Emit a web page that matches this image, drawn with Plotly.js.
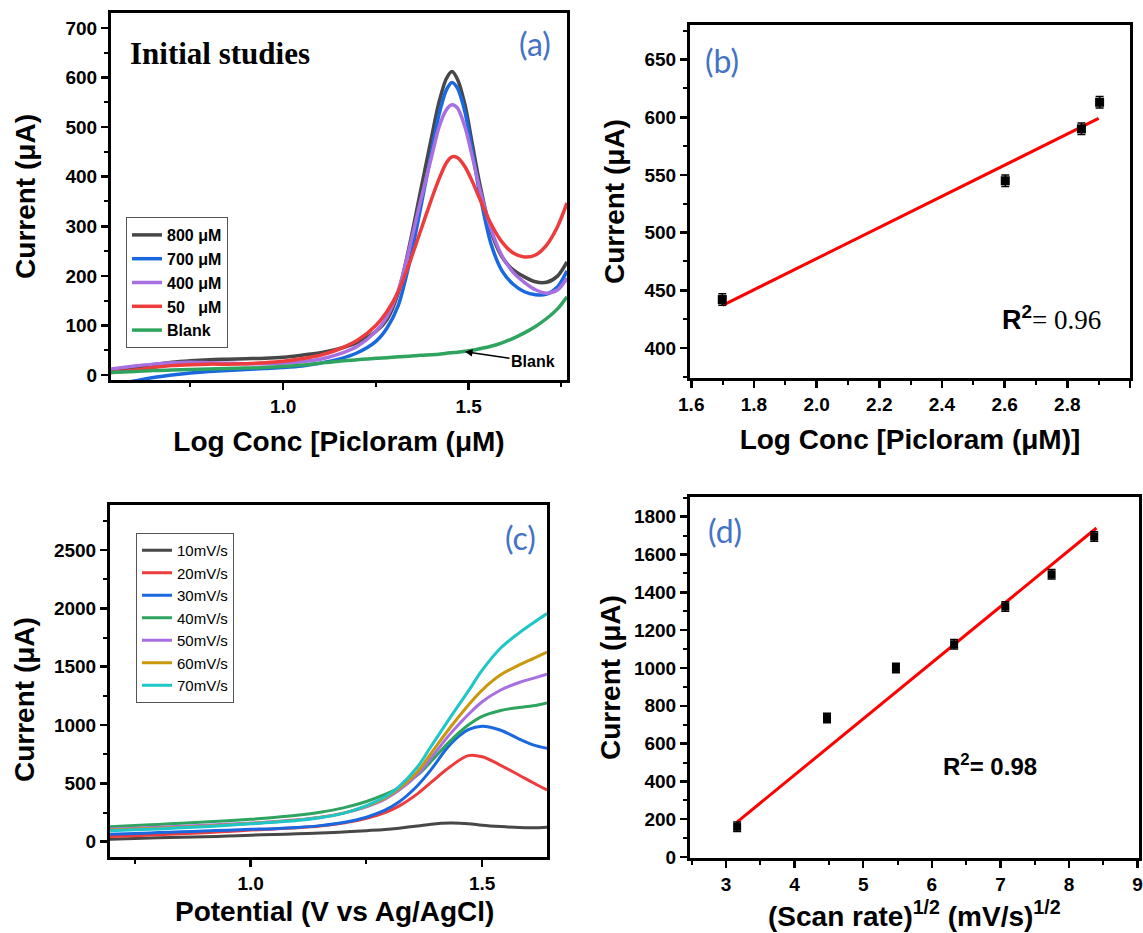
<!DOCTYPE html>
<html>
<head>
<meta charset="utf-8">
<script src="https://cdn.plot.ly/plotly-3.0.1.min.js"></script>
<style>html,body{margin:0;padding:0;background:#fff;}#chart{width:1143px;height:933px;}</style>
</head>
<body>
<div id="chart"></div>
<script>
// ---------- Panel (a): DPV curves, initial studies ----------
const xA = [0.535,0.6,0.65,0.7,0.75,0.8,0.85,0.9,0.95,1.0,1.05,1.1,1.15,1.2,1.25,1.28,1.31,1.34,1.37,1.4,1.42,1.44,1.455,1.47,1.49,1.51,1.53,1.56,1.59,1.62,1.65,1.68,1.71,1.74,1.765];
const a800  = [8,15,21,26,29,31,32,33,34,36,40,45,53,66,88,112,165,260,370,480,550,598,612,596,545,465,385,290,238,212,198,188,187,200,228];
const a700  = [-20,-12,-5,0,4,7,9,11,13,15,18,24,32,45,68,95,140,225,335,450,525,575,590,578,530,450,365,265,210,183,168,162,163,178,210];
const a400  = [12,18,22,25,26,25,24,23,23,24,27,32,42,58,88,118,170,255,350,440,500,535,545,538,500,440,375,295,240,207,187,172,165,172,195];
const a50   = [5,10,15,19,21,22,22,23,25,28,33,40,52,70,100,128,168,225,290,355,395,428,440,438,420,390,355,305,268,246,238,242,262,300,347];
const aBlank= [5,7,9,10,11,12,13,14,15,17,20,24,28,31,34,35,37,38,40,41,42,44,45,46,48,50,53,58,65,74,85,98,114,134,158];
const namesA = ['800 μM','700 μM','400 μM','50\u00a0\u00a0\u00a0μM','Blank'];

// ---------- Panel (b): peak current vs log conc ----------
const xB = [1.699,2.602,2.845,2.903];
const yB = [442,545,590,613];
const errB = [5,5,5,5];
const fitBx = [1.7,2.9];
const fitBy = [437,599];

// ---------- Panel (c): scan-rate study ----------
const xC = [0.696,0.75,0.8,0.85,0.9,0.95,1.0,1.05,1.1,1.15,1.2,1.25,1.29,1.32,1.36,1.39,1.43,1.47,1.5,1.54,1.58,1.61,1.64];
const c10 = [22,28,33,38,43,48,56,62,68,75,84,95,105,116,134,150,160,155,142,130,121,119,124];
const c20 = [45,52,60,68,77,88,100,110,120,135,160,200,250,305,410,510,640,738,728,655,570,505,443];
const c30 = [65,71,78,85,92,99,106,112,122,138,165,210,270,340,480,620,830,960,990,955,880,830,800];
const c40 = [128,138,148,158,168,180,192,207,226,252,290,345,405,462,570,690,860,1000,1075,1125,1150,1165,1190];
const c50 = [108,116,124,133,142,151,160,173,188,210,245,300,365,440,575,720,920,1090,1200,1300,1365,1400,1435];
const c60 = [100,108,116,124,133,144,156,169,185,208,245,305,375,455,600,760,975,1170,1300,1430,1515,1570,1625];
const c70 = [94,102,110,119,129,141,154,166,182,205,243,310,385,470,640,820,1060,1290,1470,1660,1790,1875,1955];
const namesC = ['10mV/s','20mV/s','30mV/s','40mV/s','50mV/s','60mV/s','70mV/s'];

// ---------- Panel (d): peak current vs sqrt(scan rate) ----------
const xD = [3.162,4.472,5.477,6.325,7.071,7.746,8.367];
const yD = [160,735,1000,1125,1325,1495,1695];
const errD = [25,25,25,25,25,25,25];
const fitDx = [3.16,8.40];
const fitDy = [185,1740];

const colA = ['#474747','#1a68e0','#a86fe2','#ee3b3b','#2ea45f'];
const colC = ['#474747','#ee3b3b','#1a68e0','#2ea45f','#a86fe2','#c9980f','#1fc6c9'];

const traces = [];
[a800,a700,a400,a50,aBlank].forEach((ys,i)=>{
  traces.push({x:xA,y:ys,name:namesA[i],type:'scatter',mode:'lines',xaxis:'x',yaxis:'y',
    line:{color:colA[i],width:3.5,shape:'spline',smoothing:0.8},legend:'legend'});
});
traces.push({x:fitBx,y:fitBy,type:'scatter',mode:'lines',xaxis:'x2',yaxis:'y2',showlegend:false,
  line:{color:'#ff0000',width:3}});
traces.push({x:xB,y:yB,type:'scatter',mode:'markers',xaxis:'x2',yaxis:'y2',showlegend:false,
  marker:{symbol:'square',size:9,color:'#000'},
  error_y:{type:'data',array:errB,visible:true,color:'#000',thickness:1.5,width:4}});
[c10,c20,c30,c40,c50,c60,c70].forEach((ys,i)=>{
  traces.push({x:xC,y:ys,name:namesC[i],type:'scatter',mode:'lines',xaxis:'x3',yaxis:'y3',
    line:{color:colC[i],width:3,shape:'spline',smoothing:1},legend:'legend2'});
});
traces.push({x:fitDx,y:fitDy,type:'scatter',mode:'lines',xaxis:'x4',yaxis:'y4',showlegend:false,
  line:{color:'#ff0000',width:3}});
traces.push({x:xD,y:yD,type:'scatter',mode:'markers',xaxis:'x4',yaxis:'y4',showlegend:false,
  marker:{symbol:'square',size:8,color:'#000'},
  error_y:{type:'data',array:errD,visible:true,color:'#000',thickness:1.5,width:4}});

const FAM = 'Liberation Sans, Arial, sans-serif';
const tickFont = {family:FAM,size:19,color:'#000',weight:'bold'};
const titleFont = {family:FAM,size:28,color:'#000',weight:'bold'};
function ax(o){
  return Object.assign({
    showline:true,linecolor:'#000',linewidth:3,mirror:true,showgrid:false,zeroline:false,
    ticks:'outside',ticklen:7,tickwidth:2.5,tickcolor:'#000',tickfont:tickFont,
    automargin:false,fixedrange:true
  },o);
}
const W=1143,H=933;
const px=v=>v/W, py=v=>1-v/H;
function titleNote(text,x,y,angle){
  return {xref:'paper',yref:'paper',x:px(x),y:py(y),xanchor:'center',yanchor:'middle',showarrow:false,
    textangle:angle||0,text:text,font:titleFont};
}

const layout = {
  width:W,height:H,margin:{l:0,r:0,t:0,b:0},paper_bgcolor:'#fff',plot_bgcolor:'#fff',
  xaxis: ax({domain:[px(111),px(567)],range:[0.536,1.765],anchor:'y',dtick:0.5,tick0:0,tickformat:'.1f',
    minor:{ticks:'outside',ticklen:4,tickwidth:2,tickcolor:'#000',dtick:0.25},
    title:{text:'<b>Log Conc [Picloram (μM)</b>',font:titleFont,standoff:16}}),
  yaxis: ax({domain:[py(380),py(13)],range:[-10,730],anchor:'x',dtick:100,
    minor:{ticks:'outside',ticklen:4,tickwidth:2,tickcolor:'#000',dtick:50},
    title:{text:'<b>Current (μA)</b>',font:titleFont,standoff:22}}),
  xaxis2: ax({domain:[px(690),px(1130)],range:[1.596,3.0],anchor:'y2',dtick:0.2,tick0:0,tickformat:'.1f',
    minor:{ticks:'outside',ticklen:4,tickwidth:2,tickcolor:'#000',dtick:0.1},
    title:{text:'<b>Log Conc [Picloram (μM)]</b>',font:titleFont,standoff:16}}),
  yaxis2: ax({domain:[py(378),py(25)],range:[374,680],anchor:'x2',dtick:50,
    minor:{ticks:'outside',ticklen:4,tickwidth:2,tickcolor:'#000',dtick:25},
    title:{text:'<b>Current (μA)</b>',font:titleFont,standoff:12}}),
  xaxis3: ax({domain:[px(110),px(547)],range:[0.696,1.64],anchor:'y3',dtick:0.5,tick0:0,tickformat:'.1f',
    minor:{ticks:'outside',ticklen:4,tickwidth:2,tickcolor:'#000',dtick:0.25}}),
  yaxis3: ax({domain:[py(857),py(505)],range:[-131,2886],anchor:'x3',dtick:500,
    minor:{ticks:'outside',ticklen:4,tickwidth:2,tickcolor:'#000',dtick:250}}),
  xaxis4: ax({domain:[px(690),px(1139)],range:[2.475,9.02],anchor:'y4',dtick:1,
    minor:{ticks:'outside',ticklen:4,tickwidth:2,tickcolor:'#000',dtick:0.5}}),
  yaxis4: ax({domain:[py(858),py(497)],range:[-5,1904],anchor:'x4',dtick:200,
    minor:{ticks:'outside',ticklen:4,tickwidth:2,tickcolor:'#000',dtick:100}}),
  legend:{x:px(126),y:py(217),xanchor:'left',yanchor:'top',bgcolor:'#fff',bordercolor:'#555',borderwidth:1,
    font:{family:FAM,size:16,color:'#000',weight:'bold'},tracegroupgap:0},
  legend2:{x:px(136),y:py(533),xanchor:'left',yanchor:'top',bgcolor:'#fff',bordercolor:'#555',borderwidth:1,
    font:{family:FAM,size:15,color:'#000'},tracegroupgap:0},
  annotations:[
    titleNote('<b>Potential (V vs Ag/AgCl)</b>',334,911),
    titleNote('<b>Current (μA)</b>',24,700,-90),
    titleNote('<b>(Scan rate)<sup>1/2</sup> (mV/s)<sup>1/2</sup></b>',915,914),
    titleNote('<b>Current (μA)</b>',610,678,-90),
    {xref:'paper',yref:'paper',x:px(128),y:py(53),xanchor:'left',yanchor:'middle',showarrow:false,
     text:'<b>Initial studies</b>',font:{family:'Liberation Serif, Times New Roman, serif',size:31,color:'#000'}},
    {xref:'paper',yref:'paper',x:px(535),y:py(43),xanchor:'center',yanchor:'middle',showarrow:false,
     text:'(a)',font:{family:'Lato, Open Sans, sans-serif',size:32,color:'#4472c4'}},
    {xref:'paper',yref:'paper',x:px(722),y:py(60),xanchor:'center',yanchor:'middle',showarrow:false,
     text:'(b)',font:{family:'Lato, Open Sans, sans-serif',size:32,color:'#4472c4'}},
    {xref:'paper',yref:'paper',x:px(520),y:py(537),xanchor:'center',yanchor:'middle',showarrow:false,
     text:'(c)',font:{family:'Lato, Open Sans, sans-serif',size:32,color:'#4472c4'}},
    {xref:'paper',yref:'paper',x:px(725),y:py(530),xanchor:'center',yanchor:'middle',showarrow:false,
     text:'(d)',font:{family:'Lato, Open Sans, sans-serif',size:32,color:'#4472c4'}},
    {xref:'x',yref:'y',x:1.49,y:47,ax:68,ay:10,showarrow:true,arrowhead:2,arrowsize:1,arrowwidth:1.5,arrowcolor:'#000',
     text:'<b>Blank</b>',font:{family:FAM,size:16,color:'#000'}},
    {xref:'paper',yref:'paper',x:px(1051),y:py(318),xanchor:'center',yanchor:'middle',showarrow:false,
     text:'<b>R<sup>2</sup></b><span style="font-family:Liberation Serif, Times New Roman, serif">= 0.96</span>',
     font:{family:FAM,size:27,color:'#000'}},
    {xref:'paper',yref:'paper',x:px(990),y:py(765),xanchor:'center',yanchor:'middle',showarrow:false,
     text:'<b>R<sup>2</sup>= 0.98</b>',
     font:{family:FAM,size:24,color:'#000'}}
  ]
};

Plotly.newPlot('chart',traces,layout,{staticPlot:true,displayModeBar:false});
</script>
</body>
</html>
